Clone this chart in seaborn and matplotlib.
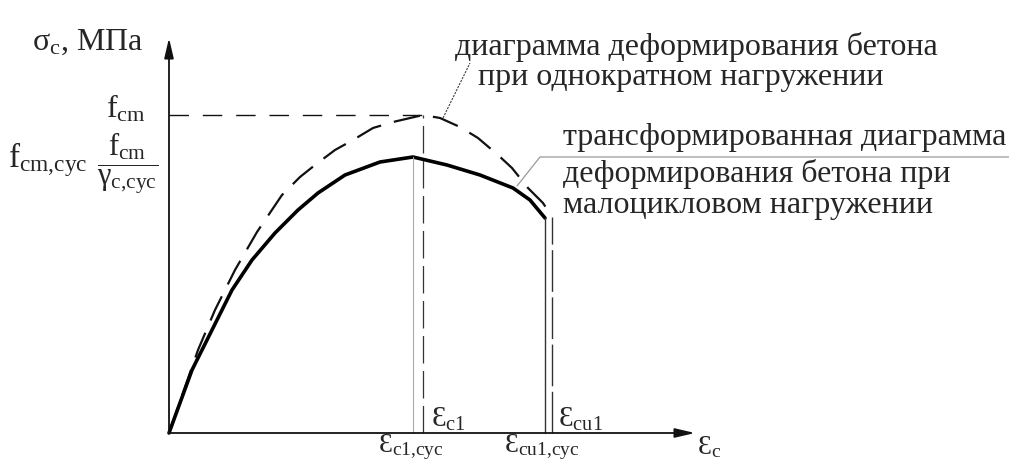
import numpy as np
import pandas as pd
import matplotlib
matplotlib.use("Agg")
import matplotlib.pyplot as plt
import seaborn as sns

# strain in per mille, stress in MPa
eps_single = [0, 0.29, 0.46, 0.66, 0.88, 1.13, 1.31, 1.46, 1.66, 1.84, 2.04, 2.24, 2.54,
              2.71, 2.91, 3.09, 3.29, 3.43, 3.59, 3.74, 3.83]
sig_single = [0, 8.3, 12.3, 16.3, 20.1, 23.8, 25.6, 26.8, 28.3, 29.3, 30.5, 31.1, 31.8,
              31.5, 30.6, 29.5, 27.8, 26.5, 24.5, 23.0, 21.6]

eps_cyc = [0, 0.23, 0.43, 0.63, 0.83, 1.06, 1.29, 1.49, 1.76, 2.11, 2.44,
           2.78, 3.11, 3.44, 3.61, 3.76]
sig_cyc = [0, 6.3, 10.3, 14.3, 17.3, 20.0, 22.3, 24.0, 25.8, 27.1, 27.6,
           26.8, 25.8, 24.5, 23.3, 21.5]

f_cm = 31.8
f_cm_cyc = 27.6
eps_c1 = 2.54
eps_c1_cyc = 2.44
eps_cu1 = 3.83
eps_cu1_cyc = 3.76

df_single = pd.DataFrame({"eps": eps_single, "sig": sig_single})
df_cyc = pd.DataFrame({"eps": eps_cyc, "sig": sig_cyc})

sns.set_style("white")
plt.rcParams["font.family"] = ["Liberation Serif", "DejaVu Serif"]
plt.rcParams["mathtext.fontset"] = "custom"
plt.rcParams["mathtext.rm"] = "Liberation Serif"
plt.rcParams["mathtext.it"] = "Liberation Serif"

W, H = 1009, 465
X0, Y0 = 169, 433          # pixel position of the origin
SX, SY = 100.0, 10.0       # pixels per unit

def px(x):
    return (x - X0) / SX

def py(y):
    return (Y0 - y) / SY

fig = plt.figure(figsize=(W / 100, H / 100), dpi=100)
ax = fig.add_axes([0, 0, 1, 1])
ax.set_xlim(px(0), px(W))
ax.set_ylim(py(H), py(0))
ax.axis("off")

ink = "#111111"

# axes with arrows
arrow = dict(arrowstyle="-|>,head_length=1.2,head_width=0.28",
             color=ink, lw=1.3, shrinkA=0, shrinkB=0)
ax.annotate("", xy=(0, py(38)), xytext=(0, 0), arrowprops=arrow)
ax.annotate("", xy=(px(695), 0), xytext=(0, 0), arrowprops=arrow)

# curves
sns.lineplot(data=df_single, x="eps", y="sig", ax=ax, sort=False, estimator=None,
             color=ink, lw=1.6, linestyle=(0, (12, 6)))
sns.lineplot(data=df_cyc, x="eps", y="sig", ax=ax, sort=False, estimator=None,
             color="black", lw=2.6)

# guide lines
ax.plot([0, eps_c1], [f_cm, f_cm], color=ink, lw=1.0, linestyle=(0, (14, 10)))
ax.plot([eps_c1, eps_c1], [0, f_cm], color="#333333", lw=0.9, linestyle=(0, (22, 6)))
ax.plot([eps_c1_cyc, eps_c1_cyc], [0, f_cm_cyc], color="#aaaaaa", lw=0.8)
ax.plot([eps_cu1_cyc, eps_cu1_cyc], [0, sig_cyc[-1]], color="#333333", lw=1.0)
ax.plot([eps_cu1, eps_cu1], [0, sig_single[-1]], color="#333333", lw=1.0,
        linestyle=(0, (30, 4)))

# leader lines
ax.plot([px(443), px(470)], [py(118), py(63)], color="#444444", lw=0.8,
        linestyle=(0, (2, 1)))
ax.plot([px(517), px(540), px(W)], [py(186), py(157), py(157)], color="#999999", lw=0.9)

fs = 23
sub = 23

# axis labels
ax.text(px(32), py(42), r"$\mathrm{\sigma_c}$, МПа", fontsize=fs, va="center", ha="left")
ax.text(px(697), py(447), r"$\mathrm{Ɛ_c}$", fontsize=20, va="center", ha="left")

# stress labels
ax.text(px(126), py(109), r"$\mathrm{f_{cm}}$", fontsize=sub, va="center", ha="center")
ax.text(px(128), py(163), r"$\dfrac{\mathrm{f_{cm}}}{\mathrm{\gamma_{c{,}cyc}}}$",
        fontsize=22, va="center", ha="center")
ax.text(px(8), py(160), r"$\mathrm{f_{cm{,}cyc}}$", fontsize=24, va="center", ha="left")

# strain labels
ax.text(eps_c1 + 0.08, py(419), r"$\mathrm{Ɛ_{c1}}$", fontsize=21, va="center", ha="left")
ax.text(eps_c1_cyc - 0.02, py(447), r"$\mathrm{Ɛ_{c1{,}cyc}}$", fontsize=20,
        va="center", ha="center")
ax.text(eps_cu1 + 0.06, py(419), r"$\mathrm{Ɛ_{cu1}}$", fontsize=21, va="center", ha="left")
ax.text(eps_cu1_cyc - 0.03, py(447), r"$\mathrm{Ɛ_{cu1{,}cyc}}$", fontsize=20,
        va="center", ha="center")

# descriptions
ax.text(px(455), py(47), "диаграмма деформирования бетона", fontsize=fs, va="center", ha="left")
ax.text(px(478), py(77), "при однократном нагружении", fontsize=fs, va="center", ha="left")
ax.text(px(563), py(137), "трансформированная диаграмма", fontsize=fs, va="center", ha="left")
ax.text(px(563), py(174), "деформирования бетона при", fontsize=fs, va="center", ha="left")
ax.text(px(563), py(206), "малоцикловом нагружении", fontsize=fs, va="center", ha="left")

fig.savefig("out.png", dpi=100, facecolor="white")
